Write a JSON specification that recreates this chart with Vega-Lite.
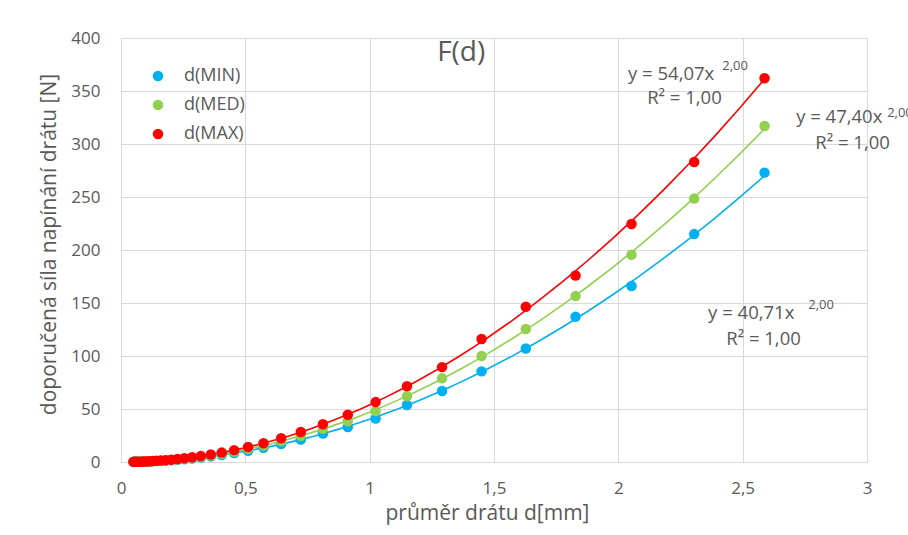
{
  "$schema": "https://vega.github.io/schema/vega-lite/v6.json",
  "width": 746,
  "height": 424,
  "autosize": "none",
  "padding": {"left": 121, "top": 38, "right": 41, "bottom": 73},
  "background": "white",
  "datasets": {
    "pts": [
      {"d": 2.588, "serie": "d(MIN)", "F": 273},
      {"d": 2.305, "serie": "d(MIN)", "F": 215},
      {"d": 2.053, "serie": "d(MIN)", "F": 166},
      {"d": 1.828, "serie": "d(MIN)", "F": 137},
      {"d": 1.628, "serie": "d(MIN)", "F": 107},
      {"d": 1.45, "serie": "d(MIN)", "F": 85.5},
      {"d": 1.291, "serie": "d(MIN)", "F": 67},
      {"d": 1.15, "serie": "d(MIN)", "F": 53.7},
      {"d": 1.024, "serie": "d(MIN)", "F": 41},
      {"d": 0.912, "serie": "d(MIN)", "F": 33},
      {"d": 0.812, "serie": "d(MIN)", "F": 26.8},
      {"d": 0.723, "serie": "d(MIN)", "F": 21.3},
      {"d": 0.644, "serie": "d(MIN)", "F": 16.9},
      {"d": 0.573, "serie": "d(MIN)", "F": 13.4},
      {"d": 0.511, "serie": "d(MIN)", "F": 10.6},
      {"d": 0.455, "serie": "d(MIN)", "F": 8.43},
      {"d": 0.405, "serie": "d(MIN)", "F": 6.68},
      {"d": 0.361, "serie": "d(MIN)", "F": 5.3},
      {"d": 0.321, "serie": "d(MIN)", "F": 4.19},
      {"d": 0.286, "serie": "d(MIN)", "F": 3.33},
      {"d": 0.255, "serie": "d(MIN)", "F": 2.65},
      {"d": 0.227, "serie": "d(MIN)", "F": 2.1},
      {"d": 0.202, "serie": "d(MIN)", "F": 1.66},
      {"d": 0.18, "serie": "d(MIN)", "F": 1.32},
      {"d": 0.16, "serie": "d(MIN)", "F": 1.04},
      {"d": 0.143, "serie": "d(MIN)", "F": 0.83},
      {"d": 0.127, "serie": "d(MIN)", "F": 0.66},
      {"d": 0.113, "serie": "d(MIN)", "F": 0.52},
      {"d": 0.101, "serie": "d(MIN)", "F": 0.42},
      {"d": 0.09, "serie": "d(MIN)", "F": 0.33},
      {"d": 0.08, "serie": "d(MIN)", "F": 0.26},
      {"d": 0.071, "serie": "d(MIN)", "F": 0.205},
      {"d": 0.063, "serie": "d(MIN)", "F": 0.16},
      {"d": 0.056, "serie": "d(MIN)", "F": 0.13},
      {"d": 0.05, "serie": "d(MIN)", "F": 0.1},
      {"d": 2.588, "serie": "d(MED)", "F": 317},
      {"d": 2.305, "serie": "d(MED)", "F": 248.5},
      {"d": 2.053, "serie": "d(MED)", "F": 195.5},
      {"d": 1.828, "serie": "d(MED)", "F": 156.5},
      {"d": 1.628, "serie": "d(MED)", "F": 125.5},
      {"d": 1.45, "serie": "d(MED)", "F": 100},
      {"d": 1.291, "serie": "d(MED)", "F": 79},
      {"d": 1.15, "serie": "d(MED)", "F": 62},
      {"d": 1.024, "serie": "d(MED)", "F": 48},
      {"d": 0.912, "serie": "d(MED)", "F": 38.5},
      {"d": 0.812, "serie": "d(MED)", "F": 31.3},
      {"d": 0.723, "serie": "d(MED)", "F": 24.8},
      {"d": 0.644, "serie": "d(MED)", "F": 19.7},
      {"d": 0.573, "serie": "d(MED)", "F": 15.6},
      {"d": 0.511, "serie": "d(MED)", "F": 12.4},
      {"d": 0.455, "serie": "d(MED)", "F": 9.81},
      {"d": 0.405, "serie": "d(MED)", "F": 7.77},
      {"d": 0.361, "serie": "d(MED)", "F": 6.18},
      {"d": 0.321, "serie": "d(MED)", "F": 4.88},
      {"d": 0.286, "serie": "d(MED)", "F": 3.88},
      {"d": 0.255, "serie": "d(MED)", "F": 3.08},
      {"d": 0.227, "serie": "d(MED)", "F": 2.44},
      {"d": 0.202, "serie": "d(MED)", "F": 1.93},
      {"d": 0.18, "serie": "d(MED)", "F": 1.54},
      {"d": 0.16, "serie": "d(MED)", "F": 1.21},
      {"d": 0.143, "serie": "d(MED)", "F": 0.97},
      {"d": 0.127, "serie": "d(MED)", "F": 0.76},
      {"d": 0.113, "serie": "d(MED)", "F": 0.61},
      {"d": 0.101, "serie": "d(MED)", "F": 0.48},
      {"d": 0.09, "serie": "d(MED)", "F": 0.38},
      {"d": 0.08, "serie": "d(MED)", "F": 0.3},
      {"d": 0.071, "serie": "d(MED)", "F": 0.24},
      {"d": 0.063, "serie": "d(MED)", "F": 0.19},
      {"d": 0.056, "serie": "d(MED)", "F": 0.15},
      {"d": 0.05, "serie": "d(MED)", "F": 0.12},
      {"d": 2.588, "serie": "d(MAX)", "F": 362},
      {"d": 2.305, "serie": "d(MAX)", "F": 283},
      {"d": 2.053, "serie": "d(MAX)", "F": 224.5},
      {"d": 1.828, "serie": "d(MAX)", "F": 176},
      {"d": 1.628, "serie": "d(MAX)", "F": 146.5},
      {"d": 1.45, "serie": "d(MAX)", "F": 116},
      {"d": 1.291, "serie": "d(MAX)", "F": 89.5},
      {"d": 1.15, "serie": "d(MAX)", "F": 71.5},
      {"d": 1.024, "serie": "d(MAX)", "F": 56.5},
      {"d": 0.912, "serie": "d(MAX)", "F": 44.5},
      {"d": 0.812, "serie": "d(MAX)", "F": 35.6},
      {"d": 0.723, "serie": "d(MAX)", "F": 28.3},
      {"d": 0.644, "serie": "d(MAX)", "F": 22.4},
      {"d": 0.573, "serie": "d(MAX)", "F": 17.75},
      {"d": 0.511, "serie": "d(MAX)", "F": 14.1},
      {"d": 0.455, "serie": "d(MAX)", "F": 11.2},
      {"d": 0.405, "serie": "d(MAX)", "F": 8.87},
      {"d": 0.361, "serie": "d(MAX)", "F": 7.05},
      {"d": 0.321, "serie": "d(MAX)", "F": 5.57},
      {"d": 0.286, "serie": "d(MAX)", "F": 4.42},
      {"d": 0.255, "serie": "d(MAX)", "F": 3.51},
      {"d": 0.227, "serie": "d(MAX)", "F": 2.78},
      {"d": 0.202, "serie": "d(MAX)", "F": 2.21},
      {"d": 0.18, "serie": "d(MAX)", "F": 1.75},
      {"d": 0.16, "serie": "d(MAX)", "F": 1.38},
      {"d": 0.143, "serie": "d(MAX)", "F": 1.1},
      {"d": 0.127, "serie": "d(MAX)", "F": 0.87},
      {"d": 0.113, "serie": "d(MAX)", "F": 0.69},
      {"d": 0.101, "serie": "d(MAX)", "F": 0.55},
      {"d": 0.09, "serie": "d(MAX)", "F": 0.44},
      {"d": 0.08, "serie": "d(MAX)", "F": 0.35},
      {"d": 0.071, "serie": "d(MAX)", "F": 0.27},
      {"d": 0.063, "serie": "d(MAX)", "F": 0.21},
      {"d": 0.056, "serie": "d(MAX)", "F": 0.17},
      {"d": 0.05, "serie": "d(MAX)", "F": 0.135}
    ],
    "eq": [
      {"d": 2.039, "F": 366, "t": "y = 54,07x"},
      {"d": 2.116, "F": 343.4, "t": "R² = 1,00"},
      {"d": 2.715, "F": 325.5, "t": "y = 47,40x"},
      {"d": 2.792, "F": 301, "t": "R² = 1,00"},
      {"d": 2.361, "F": 140.6, "t": "y = 40,71x"},
      {"d": 2.434, "F": 116, "t": "R² = 1,00"}
    ],
    "sup": [
      {"d": 2.418, "F": 373.6, "t": "2,00"},
      {"d": 3.081, "F": 329.5, "t": "2,00"},
      {"d": 2.764, "F": 148, "t": "2,00"}
    ],
    "ttl": [
      {"d": 1.368, "F": 385.8, "t": "F(d)"}
    ]
  },
  "encoding": {
    "x": {
      "field": "d", "type": "quantitative",
      "scale": {"domain": [0, 3], "nice": false, "zero": false},
      "axis": {
        "values": [0, 0.5, 1, 1.5, 2, 2.5, 3],
        "labelExpr": "replace(toString(datum.value), '.', ',')",
        "labelFlush": false,
        "title": "průměr drátu d[mm]",
        "titleFontSize": 21,
        "titleX": 366,
        "labelPadding": 18, "titlePadding": 6
      }
    },
    "y": {
      "field": "F", "type": "quantitative",
      "scale": {"domain": [0, 400], "nice": false},
      "axis": {
        "values": [0, 50, 100, 150, 200, 250, 300, 350, 400],
        "title": "doporučená síla napínání drátu [N]",
        "titleFontSize": 21,
        "titleY": 206,
        "labelPadding": 21, "titlePadding": 11
      }
    }
  },
  "layer": [
    {
      "data": {"name": "pts"},
      "transform": [
        {"regression": "F", "on": "d", "groupby": ["serie"], "method": "pow"}
      ],
      "mark": {"type": "line", "strokeWidth": 1.6, "clip": true},
      "encoding": {
        "color": {
          "field": "serie", "type": "nominal",
          "scale": {"domain": ["d(MIN)", "d(MED)", "d(MAX)"], "range": ["#00B0F0", "#92D050", "#FF0000"]},
          "legend": null
        }
      }
    },
    {
      "data": {"name": "pts"},
      "mark": {"type": "point", "filled": true, "opacity": 1, "size": 110},
      "encoding": {
        "color": {
          "field": "serie", "type": "nominal",
          "scale": {"domain": ["d(MIN)", "d(MED)", "d(MAX)"], "range": ["#00B0F0", "#92D050", "#FF0000"]},
          "legend": {
            "title": null, "orient": "none", "legendX": 28, "legendY": 29,
            "symbolType": "circle", "symbolSize": 110, "labelFontSize": 18,
            "labelColor": "#595959", "labelOffset": 17, "rowPadding": 11, "padding": 0
          }
        }
      }
    },
    {
      "data": {"name": "eq"},
      "mark": {"type": "text", "align": "left", "baseline": "middle", "fontSize": 18.5, "color": "#595959"},
      "encoding": {"text": {"field": "t"}}
    },
    {
      "data": {"name": "sup"},
      "mark": {"type": "text", "align": "left", "baseline": "middle", "fontSize": 13, "color": "#595959"},
      "encoding": {"text": {"field": "t"}}
    },
    {
      "data": {"name": "ttl"},
      "mark": {"type": "text", "align": "center", "baseline": "middle", "fontSize": 28, "color": "#595959"},
      "encoding": {"text": {"field": "t"}}
    }
  ],
  "resolve": {"legend": {"color": "independent"}},
  "config": {
    "font": "Open Sans",
    "view": {"stroke": null},
    "axis": {
      "domainColor": "#d9d9d9", "gridColor": "#d9d9d9", "ticks": false,
      "labelColor": "#595959", "labelFontSize": 17, "titleColor": "#595959",
      "titleFontWeight": "normal", "labelFont": "Open Sans", "titleFont": "Open Sans"
    },
    "legend": {"labelFont": "Open Sans"},
    "text": {"font": "Open Sans"}
  }
}
